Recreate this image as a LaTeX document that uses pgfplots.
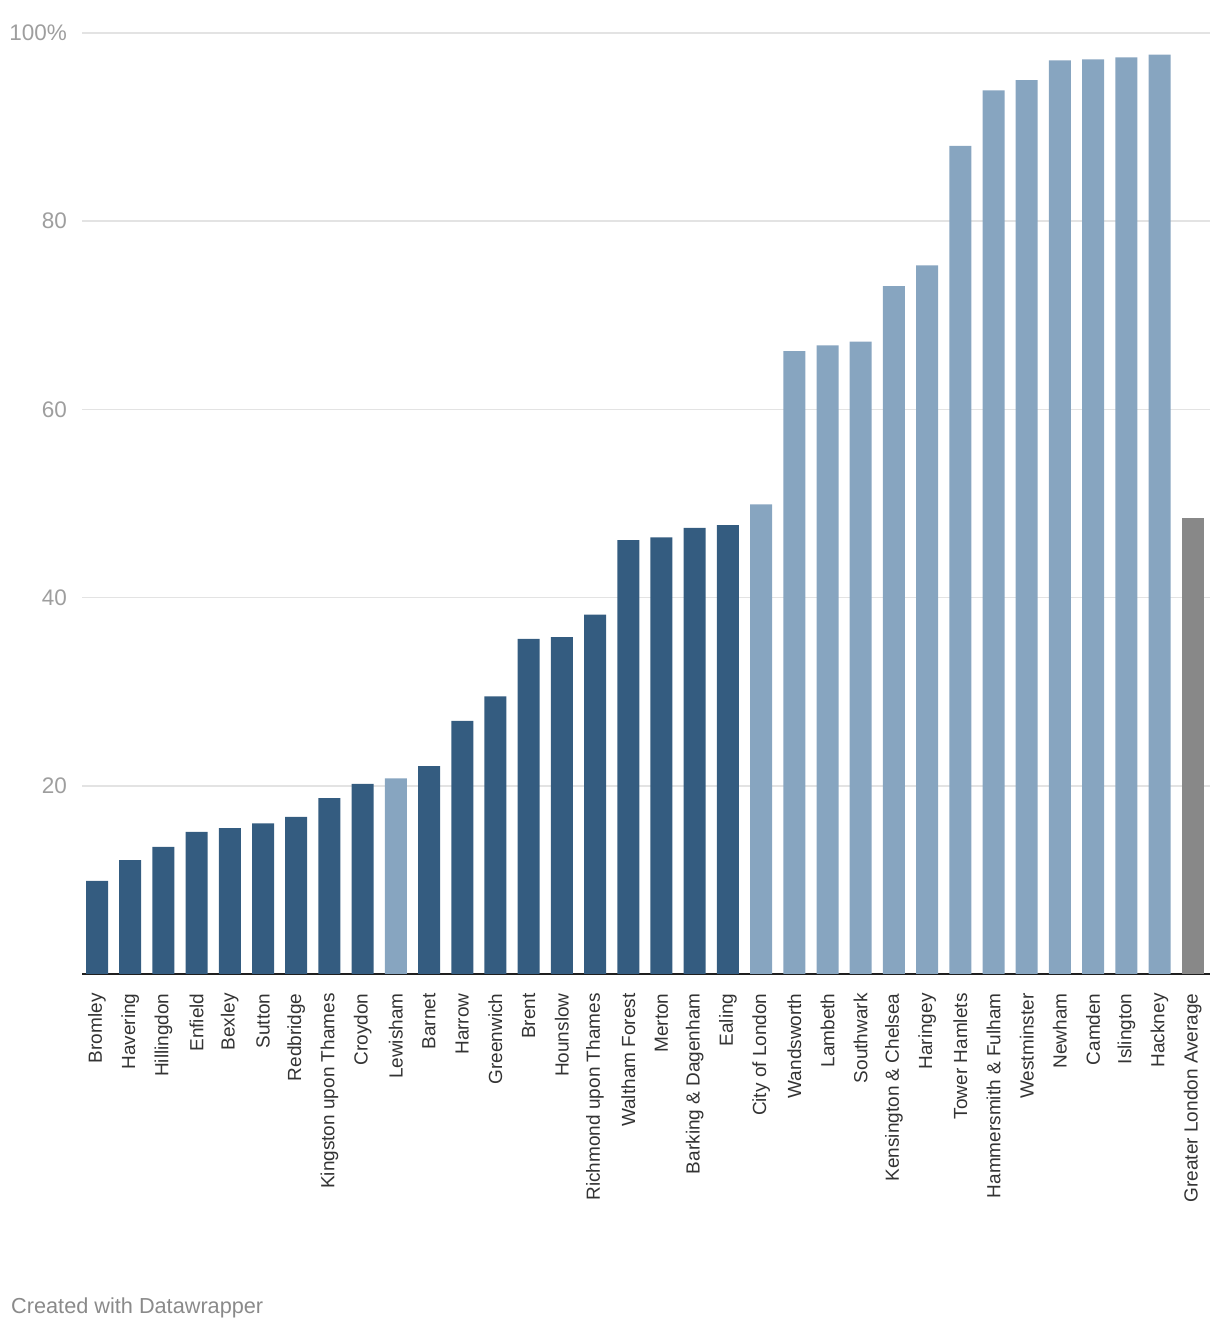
\documentclass[border=0pt]{standalone}
\usepackage{pgfplots}
\pgfplotsset{compat=1.18}
\usepackage{fontspec}
\setmainfont{Liberation Sans}
\definecolor{darkbar}{HTML}{345C80}
\definecolor{lightbar}{HTML}{87A5C0}
\definecolor{avgbar}{HTML}{888888}
\definecolor{gridgray}{HTML}{E3E3E3}
\definecolor{ticktext}{HTML}{9E9E9E}
\definecolor{labeltext}{HTML}{333333}
\definecolor{credit}{HTML}{8A8A8A}
\begin{document}
\begin{tikzpicture}
\path[use as bounding box] (0,0) rectangle (1220bp,1332bp);
\begin{axis}[
    at={(82bp,358bp)}, anchor=south west,
    scale only axis,
    width=1128bp, height=941bp,
    xmin=-0.452, xmax=33.52,
    ymin=0, ymax=100,
    axis x line*=bottom,
    axis y line*=left,
    y axis line style={draw=none},
    x axis line style={color=black!88, line width=2.2bp},
    xtick={0,...,33},
    xticklabels={Bromley,Havering,Hillingdon,Enfield,Bexley,Sutton,Redbridge,Kingston upon Thames,Croydon,Lewisham,Barnet,Harrow,Greenwich,Brent,Hounslow,Richmond upon Thames,Waltham Forest,Merton,Barking \& Dagenham,Ealing,City of London,Wandsworth,Lambeth,Southwark,Kensington \& Chelsea,Haringey,Tower Hamlets,Hammersmith \& Fulham,Westminster,Newham,Camden,Islington,Hackney,Greater London Average},
    xtick style={draw=none},
    xticklabel style={rotate=90, anchor=east, inner sep=0pt, text=labeltext,
        font=\fontsize{19bp}{22bp}\selectfont},
    xticklabel shift=15bp,
    ytick={20,40,60,80,100},
    yticklabels={20,40,60,80,100\%},
    ytick style={draw=none},
    yticklabel style={anchor=east, inner sep=0pt, text=ticktext,
        font=\fontsize{22.5bp}{26bp}\selectfont},
    yticklabel shift=15bp,
    ymajorgrids=true,
    major grid style={color=gridgray, line width=1.6bp},
    ybar, bar width=22bp,
]
% dark boroughs
\addplot[ybar, bar shift=0pt, fill=darkbar, draw=none] coordinates {
    (0,9.9) (1,12.1) (2,13.5) (3,15.1) (4,15.5) (5,16.0) (6,16.7) (7,18.7)
    (8,20.2) (10,22.1) (11,26.9) (12,29.5) (13,35.6) (14,35.8) (15,38.2)
    (16,46.1) (17,46.4) (18,47.4) (19,47.7)
};
% light boroughs
\addplot[ybar, bar shift=0pt, fill=lightbar, draw=none] coordinates {
    (9,20.8) (20,49.9) (21,66.2) (22,66.8) (23,67.2) (24,73.1) (25,75.3)
    (26,88.0) (27,93.9) (28,95.0) (29,97.1) (30,97.2) (31,97.4) (32,97.7)
};
% average
\addplot[ybar, bar shift=0pt, fill=avgbar, draw=none] coordinates {
    (33,48.5)
};
\end{axis}
\node[anchor=base west, inner sep=0pt, text=credit,
    font=\fontsize{21.7bp}{25bp}\selectfont] at (11bp,19bp) {Created with Datawrapper};
\end{tikzpicture}
\end{document}
